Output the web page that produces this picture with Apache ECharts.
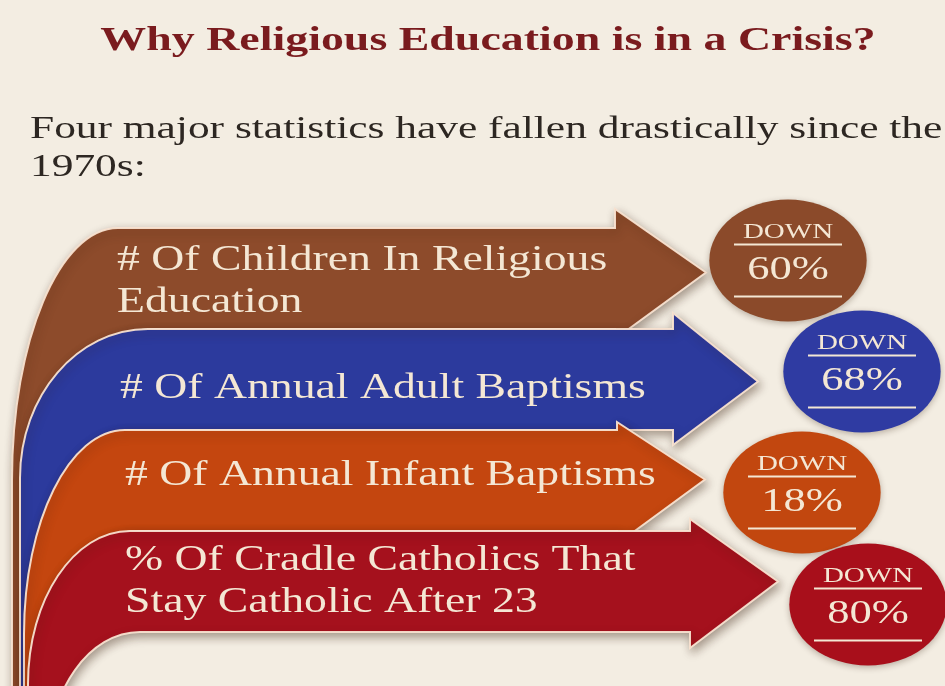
<!DOCTYPE html>
<html><head><meta charset="utf-8">
<script src="https://cdn.jsdelivr.net/npm/echarts@6/dist/echarts.min.js"></script>
<style>html,body{margin:0;padding:0;background:#f3ede2}#chart{width:945px;height:686px}</style>
</head><body><div id="chart"></div>
<script>
// ---- data ----
const categories = [
  '# Of Children In Religious\nEducation',
  '# Of Annual Adult Baptisms',
  '# Of Annual Infant Baptisms',
  '% Of Cradle Catholics That\nStay Catholic After 23'
];
const declines = [60, 68, 18, 80];
const badgeWord = 'DOWN';
const titleText = 'Why Religious Education is in a Crisis?';
const subtitleLines = ['Four major statistics have fallen drastically since the', '1970s:'];

// ---- styles ----
const bandColors = ['#8d4b2b', '#2c3a9d', '#c4460f', '#a5111d'];
const badgeColors = ['#8b4a2a', '#2f3ba2', '#c2470f', '#a80f1b'];
const cream = '#f4e7d4';
const layout = [
  {outerTop:118, outerBot:12, depth:252, bodyEnd:615, up:19, down:10, tipX:706, tipDy:-6, badgeX:788, badgeDy:-18, labelX:117, labelDy:3},
  {outerTop:148, outerBot:20, depth:149, bodyEnd:673, up:16, down:15, tipX:758, tipDy:2,  badgeX:862, badgeDy:-8,  labelX:120, labelDy:9},
  {outerTop:125, outerBot:24, depth:204, bodyEnd:617, up:8,  down:13, tipX:705, tipDy:-1, badgeX:802, badgeDy:12,  labelX:125, labelDy:-5},
  {outerTop:130, outerBot:28, depth:153, bodyEnd:690, up:12, down:16, tipX:778, tipDy:0,  badgeX:868, badgeDy:23,  labelX:125, labelDy:0}
];
const lastInner = {top:140, bot:48, depth:130};
const K = 0.5523;

function bandPath(i, T, B, yc) {
  const L = layout[i];
  const ot = L.outerTop, ob = L.outerBot, Vy = T + L.depth;
  let it, ib, iDepth;
  if (i < layout.length - 1) {
    const N = layout[i + 1];
    it = N.outerTop + 8; ib = N.outerBot + 8; iDepth = N.depth;
  } else { it = lastInner.top; ib = lastInner.bot; iDepth = lastInner.depth; }
  const Vi = B + iDepth;
  const bottom = 760;
  const p = [];
  p.push('M', ob, bottom);
  p.push('L', ob, Vy);
  p.push('C', ob, Vy - K * (Vy - T), ot - K * (ot - ob), T, ot, T);
  p.push('L', L.bodyEnd, T);
  p.push('L', L.bodyEnd, T - L.up);
  p.push('L', L.tipX, yc + L.tipDy);
  p.push('L', L.bodyEnd, B + L.down);
  p.push('L', L.bodyEnd, B);
  p.push('L', it, B);
  p.push('C', it - K * (it - ib), B, ib, Vi - K * (Vi - B), ib, Vi);
  p.push('L', ib, bottom);
  p.push('Z');
  return p.join(' ');
}

function renderItem(params, api) {
  const idx = api.value(1);
  const v = api.value(0);
  const yc = api.coord([0, idx])[1];
  const h = api.size([0, 1])[1] / 2;
  const T = yc - h, B = yc + h;
  const L = layout[idx];
  const ex = L.badgeX, ey = yc + L.badgeDy;
  return {
    type: 'group',
    children: [
      {type: 'path', shape: {pathData: bandPath(idx, T, B, yc)},
       style: {fill: bandColors[idx], stroke: 'rgba(248,226,208,0.95)', lineWidth: 2,
               shadowBlur: 10, shadowOffsetX: 2, shadowOffsetY: 4, shadowColor: 'rgba(50,25,10,0.4)'}},
      {type: 'text', x: L.labelX, y: yc + L.labelDy, scaleX: 1.27,
       style: {text: categories[idx], font: '36px "Liberation Serif"', fill: cream,
               align: 'left', verticalAlign: 'middle', lineHeight: 42}},
      {type: 'circle', x: ex, y: ey, scaleX: 1.29, shape: {cx: 0, cy: 0, r: 61},
       style: {fill: badgeColors[idx], shadowBlur: 6, shadowOffsetY: 2, shadowColor: 'rgba(50,25,10,0.3)'}},
      {type: 'line', shape: {x1: ex - 54, y1: ey - 16, x2: ex + 54, y2: ey - 16}, style: {stroke: cream, lineWidth: 2}},
      {type: 'line', shape: {x1: ex - 54, y1: ey + 36, x2: ex + 54, y2: ey + 36}, style: {stroke: cream, lineWidth: 2}},
      {type: 'text', x: ex, y: ey - 28, scaleX: 1.45,
       style: {text: badgeWord, font: '20px "Liberation Serif"', fill: cream, align: 'center', verticalAlign: 'middle'}},
      {type: 'text', x: ex, y: ey + 10, scaleX: 1.35,
       style: {text: v + '%', font: '33px "Liberation Serif"', fill: cream, align: 'center', verticalAlign: 'middle'}}
    ]
  };
}

const chart = echarts.init(document.getElementById('chart'));
chart.setOption({
  animation: false,
  backgroundColor: '#f3ede2',
  grid: {left: 0, right: 0, top: 228, height: 404},
  xAxis: {type: 'value', min: 0, max: 100, show: false},
  yAxis: {type: 'category', data: categories, inverse: true, show: false},
  graphic: [
    {type: 'text', x: 488, y: 41, scaleX: 1.35,
     style: {text: titleText, font: 'bold 34px "Liberation Serif"', fill: '#7a1b1e', align: 'center', verticalAlign: 'middle'}},
    {type: 'text', x: 30, y: 130, scaleX: 1.4,
     style: {text: subtitleLines[0], font: '31px "Liberation Serif"', fill: '#2d2722', align: 'left', verticalAlign: 'middle'}},
    {type: 'text', x: 30, y: 168, scaleX: 1.4,
     style: {text: subtitleLines[1], font: '31px "Liberation Serif"', fill: '#2d2722', align: 'left', verticalAlign: 'middle'}}
  ],
  series: [{
    type: 'custom',
    clip: false,
    renderItem: renderItem,
    data: declines.map((v, i) => [v, i])
  }]
});
</script></body></html>
